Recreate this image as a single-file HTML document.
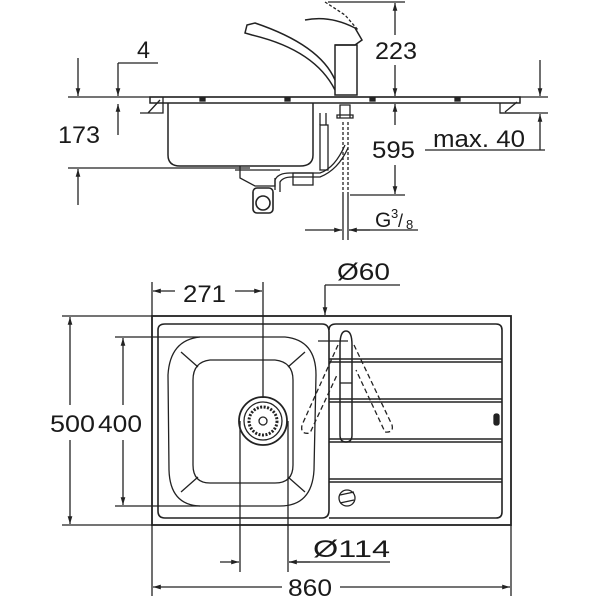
<!DOCTYPE html>
<html><head><meta charset="utf-8"><style>html,body{margin:0;padding:0;background:#fff}svg{display:block}text{font-family:"Liberation Sans",sans-serif;fill:#1a1a1a}</style></head><body>
<svg width="600" height="600" viewBox="0 0 600 600" xmlns="http://www.w3.org/2000/svg">
<defs><marker id="a" viewBox="0 0 10 10" refX="10" refY="5" markerWidth="6" markerHeight="6" orient="auto-start-reverse"><path d="M0,2 L10,5 L0,8z" fill="#222"/></marker></defs>
<g stroke="#222" stroke-width="1.3" fill="none">
<line x1="68" y1="97" x2="548" y2="97"/>
<line x1="500" y1="113" x2="548" y2="113"/>
<line x1="68" y1="168" x2="250" y2="168"/>
<line x1="78" y1="58" x2="78" y2="96" marker-end="url(#a)"/>
<line x1="78" y1="205" x2="78" y2="169" marker-end="url(#a)"/>
<line x1="118" y1="63" x2="158" y2="63"/>
<line x1="118" y1="63" x2="118" y2="96" marker-end="url(#a)"/>
<line x1="118" y1="135" x2="118" y2="104" marker-end="url(#a)"/>
<rect x="150" y="97" width="370" height="6" stroke-width="1.5"/>
<path d="M140,113 L163,113 L163,97 M148,113 L160,100"/>
<path d="M520,113 L500,113 L500,103 M505,112 L517,102"/>
<g fill="#222"><rect x="200" y="98" width="5" height="3"/><rect x="285" y="98" width="5" height="3"/><rect x="370" y="98" width="5" height="3"/><rect x="455" y="98" width="5" height="3"/></g>
<path d="M168,103 L168,155 Q168,166 180,166 L300,166 Q313,166 313,155 L313,103" stroke-width="1.5"/>
<path d="M240,166 L240,178 L255,186 L275,186 L275,178 M235,170 L280,170"/>
<rect x="253" y="188" width="20" height="25" rx="4" stroke-width="1.6"/><circle cx="263" cy="203" r="7" stroke-width="1.6"/>
<path d="M275,190 L275,180 Q278,173 290,173 L320,173 Q335,168 345,145 M280,192 L280,182 Q283,177 292,177 L320,177 Q338,170 348,148"/>
<rect x="293" y="173" width="20" height="12"/>
<rect x="320" y="125" width="8" height="45"/><path d="M320,113 L320,125 M326,113 L326,125"/>
<path d="M340,105 L350,105 L350,118 L340,118 Z M337,115 L353,115 L353,118 L337,118Z"/>
<path d="M343,122 L343,195 M348,122 L348,195" stroke-dasharray="3,2"/>
<path d="M343,195 L343,240 M348,195 L348,240"/>
<rect x="335" y="45" width="22" height="50" stroke-width="1.5"/>
<path d="M335,80 Q320,45 255,23 L247,25 L245,33 L252,35 Q315,50 335,90" stroke-width="1.5"/>
<path d="M305,20 Q330,15 355,28 L362,40 L355,45 L335,45" stroke-width="1.5"/>
<path d="M325,2 L345,15 L358,30" stroke-dasharray="3,2"/>
<line x1="328" y1="2" x2="405" y2="2"/>
<line x1="395" y1="35" x2="395" y2="3" marker-end="url(#a)"/>
<line x1="395" y1="65" x2="395" y2="96" marker-end="url(#a)"/>
<line x1="395" y1="125" x2="395" y2="104" marker-end="url(#a)"/>
<line x1="395" y1="165" x2="395" y2="194" marker-end="url(#a)"/>
<line x1="350" y1="195" x2="405" y2="195"/>
<line x1="425" y1="150" x2="545" y2="150"/>
<line x1="540" y1="60" x2="540" y2="96" marker-end="url(#a)"/>
<line x1="540" y1="150" x2="540" y2="114" marker-end="url(#a)"/>
<line x1="305" y1="230" x2="342" y2="230" marker-end="url(#a)"/>
<line x1="370" y1="230" x2="349" y2="230" marker-end="url(#a)"/>
<line x1="349" y1="230" x2="418" y2="230"/>

<rect x="152" y="316" width="359" height="209" stroke-width="1.8"/>
<path d="M158,330 Q158,324 165,324 L322,324 Q329,324 329,332 L329,510 Q329,518 322,518 L165,518 Q158,518 158,511 Z" stroke-width="1.6"/>
<path d="M329,330 Q329,324 336,324 L496,324 Q502,324 502,330 L502,512 Q502,518 496,518 L329,518" stroke-width="1.6"/>
<g stroke-width="1.4"><path d="M329,359 L502,359 M329,362 L502,362"/><path d="M329,399 L502,399 M329,402 L502,402"/><path d="M329,439 L502,439 M329,442 L502,442"/><path d="M329,479 L502,479 M329,482 L502,482"/></g>
<path d="M200,337 L285,337 Q316,340 316,375 L314,470 Q312,506 280,506 L200,506 Q170,505 169,470 L168,375 Q170,340 200,337Z"/>
<path d="M210,360 L275,360 Q293,362 293,380 L293,465 Q293,483 275,483 L210,483 Q193,483 193,465 L193,380 Q193,362 210,360Z"/>
<path d="M181,352 L198,367 M305,352 L288,367 M181,492 L198,477 M305,492 L288,477"/>
<circle cx="263" cy="421" r="24" stroke-width="1.8"/><circle cx="263" cy="421" r="19"/><circle cx="263" cy="421" r="14" stroke-dasharray="2,1.5" stroke-width="3"/><circle cx="263" cy="421" r="4"/>
<circle cx="347" cy="498" r="8"/><path d="M340,495 L354,492 M340,503 L354,500"/>
<rect x="494" y="414" width="5" height="11" rx="2" fill="#222"/>
<path d="M340,345 Q340,331 346,331 Q352,331 352,345 L352,435 Q352,442 346,442 Q340,442 340,435 Z" stroke-width="1.5"/>
<line x1="340" y1="383" x2="352" y2="383"/>
<path d="M338,345 L302,425 Q300,435 310,433 L337,375 M354,345 L392,425 Q394,433 385,432 L356,370" stroke-dasharray="5,3"/>
<line x1="318" y1="341" x2="348" y2="341"/>
<line x1="62" y1="316" x2="152" y2="316"/>
<line x1="62" y1="525" x2="152" y2="525"/>
<line x1="115" y1="337" x2="200" y2="337"/>
<line x1="115" y1="506" x2="200" y2="506"/>
<line x1="70" y1="405" x2="70" y2="317" marker-end="url(#a)"/>
<line x1="70" y1="440" x2="70" y2="524" marker-end="url(#a)"/>
<line x1="123" y1="405" x2="123" y2="338" marker-end="url(#a)"/>
<line x1="123" y1="440" x2="123" y2="505" marker-end="url(#a)"/>
<line x1="152" y1="282" x2="152" y2="316"/>
<line x1="263" y1="282" x2="263" y2="398"/>
<line x1="175" y1="291" x2="153" y2="291" marker-end="url(#a)"/>
<line x1="235" y1="291" x2="262" y2="291" marker-end="url(#a)"/>
<line x1="325" y1="285" x2="400" y2="285"/>
<line x1="325" y1="285" x2="325" y2="315" marker-end="url(#a)"/>
<line x1="240" y1="421" x2="240" y2="572"/>
<line x1="288" y1="421" x2="288" y2="572"/>
<line x1="220" y1="562" x2="239" y2="562" marker-end="url(#a)"/>
<line x1="310" y1="562" x2="289" y2="562" marker-end="url(#a)"/>
<line x1="289" y1="562" x2="390" y2="562"/>
<line x1="152" y1="525" x2="152" y2="596"/>
<line x1="511" y1="525" x2="511" y2="596"/>
<line x1="282" y1="587" x2="153" y2="587" marker-end="url(#a)"/>
<line x1="340" y1="587" x2="510" y2="587" marker-end="url(#a)"/>
</g>
<g font-size="24">
<text x="137" y="58" textLength="13" lengthAdjust="spacingAndGlyphs">4</text>
<text x="58" y="143" textLength="42" lengthAdjust="spacingAndGlyphs">173</text>
<text x="375" y="59" textLength="42" lengthAdjust="spacingAndGlyphs">223</text>
<text x="372" y="158" textLength="43" lengthAdjust="spacingAndGlyphs">595</text>
<text x="433" y="147" textLength="92" lengthAdjust="spacingAndGlyphs">max. 40</text>
<text x="375" y="227" font-size="21">G</text><text x="391" y="218" font-size="13">3</text><text x="398" y="227" font-size="18">/</text><text x="406" y="229" font-size="13">8</text>
<text x="183" y="302" textLength="43" lengthAdjust="spacingAndGlyphs">271</text>
<text x="337" y="280" textLength="53" lengthAdjust="spacingAndGlyphs">Ø60</text>
<text x="50" y="432" textLength="45" lengthAdjust="spacingAndGlyphs">500</text>
<text x="98" y="432" textLength="44" lengthAdjust="spacingAndGlyphs">400</text>
<text x="313" y="557" textLength="77" lengthAdjust="spacingAndGlyphs">Ø114</text>
<text x="288" y="596" textLength="44" lengthAdjust="spacingAndGlyphs">860</text>
</g>
</svg>
</body></html>
